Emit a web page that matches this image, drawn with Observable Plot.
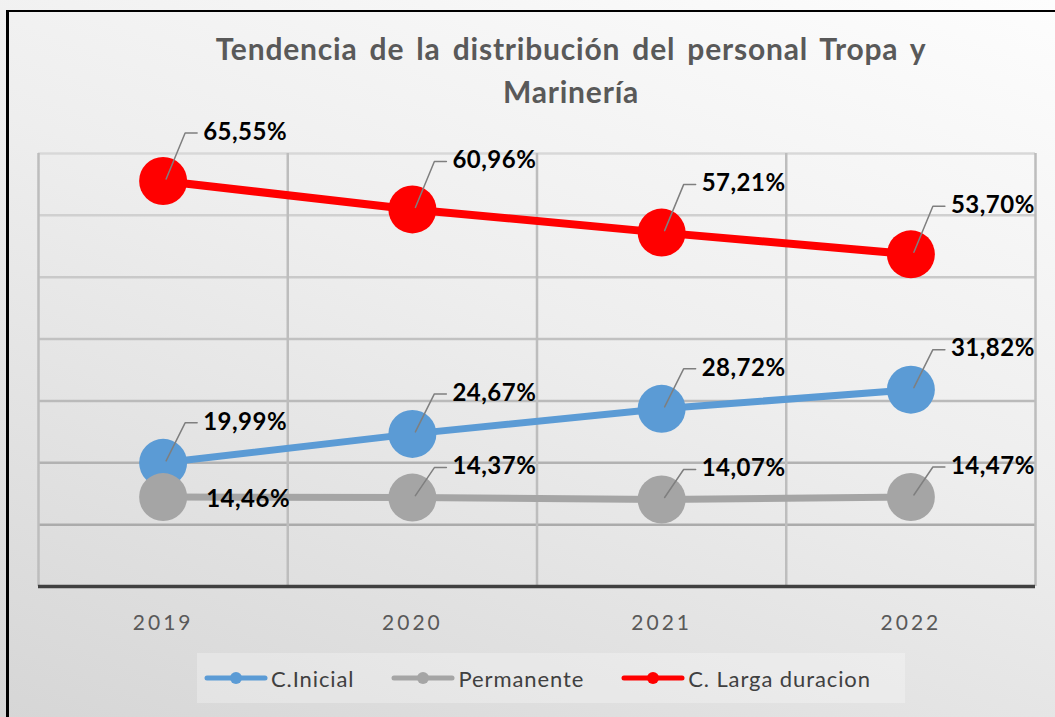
<!DOCTYPE html>
<html>
<head>
<meta charset="utf-8">
<script src="https://cdn.jsdelivr.net/npm/d3@7"></script>
<script src="https://cdn.jsdelivr.net/npm/@observablehq/plot@0.6"></script>
<style>
  html, body { margin: 0; padding: 0; }
  #chart {
    position: relative; width: 1055px; height: 717px; overflow: hidden;
    background: linear-gradient(200deg, #fdfdfd 0%, #eeeeee 45%, #d6d6d6 100%);
    font-family: Lato, "Open Sans", sans-serif;
  }
  #frame { position: absolute; left: 6px; top: 10px; right: -10px; bottom: -10px;
    border-left: 3px solid #000; border-top: 2px solid #000; }
  #title { position: absolute; left: 87px; width: 968px; top: 27px; text-align: center;
    font-weight: 700; font-size: 30px; line-height: 43px; color: #595959;
    letter-spacing: 0.8px; word-spacing: 4px; }
  #plot { position: absolute; left: 0; top: 130px; }
  #legend { position: absolute; left: 197px; top: 653px; width: 708px; height: 50px;
    background: rgba(255,255,255,0.28); display: flex; align-items: center;
    box-sizing: border-box; padding-left: 7px; gap: 37px; }
  .item { display: flex; align-items: center; gap: 3px; font-size: 22px; color: #404040; letter-spacing: 0.9px; }
</style>
</head>
<body>
<div id="chart">
  <div id="frame"></div>
  <div id="title">Tendencia de la distribución del personal Tropa y<br>Marinería</div>
  <div id="plot"></div>
  <div id="legend"></div>
</div>
<script>
const years = ["2019", "2020", "2021", "2022"];
const cInicial = [19.99, 24.67, 28.72, 31.82];
const permanente = [14.46, 14.37, 14.07, 14.47];
const cLarga = [65.55, 60.96, 57.21, 53.70];
const seriesNames = ["C.Inicial", "Permanente", "C. Larga duracion"];
const seriesValues = [cInicial, permanente, cLarga];
const seriesColors = ["#5B9BD5", "#A5A5A5", "#FF0000"];
const gridTicks = [10, 20, 30, 40, 50, 60, 70];

// label lift above each point (pixels), per series
const labelLift = [40, 30, 48];
const lineWidths = [7, 7, 8];

const rows = [];
seriesNames.forEach((s, si) => {
  seriesValues[si].forEach((v, i) => rows.push({series: s, si, year: years[i], i, value: v}));
});
const fmt = v => v.toFixed(2).replace(".", ",") + "%";
const beside = r => r.series === "Permanente" && r.year === "2019";

const gridColor = d3.interpolateRgb("#a3a3a3", "#d8d8d8");

const leaderShape = {
  draw(context, l) {
    context.moveTo(3, -2);
    context.lineTo(22, -l);
    context.lineTo(34, -l);
  }
};

const marks = [
  Plot.ruleY(gridTicks, {y: d => d, stroke: d => gridColor(d / 70), strokeWidth: 2.5}),
  Plot.ruleX(d3.range(years.length + 1), {x: d => d, y1: 0, y2: 70, stroke: "#bdbdbd", strokeWidth: 2.5}),
  Plot.ruleY([0], {stroke: "#404040", strokeWidth: 3.5}),
  Plot.text(years, {x: (d, i) => i + 0.5, y: 0, text: d => d, dy: 37, fontSize: 21, fill: "#595959", fontFamily: "Lato"})
];
seriesNames.forEach((s, si) => {
  const data = rows.filter(r => r.si === si);
  marks.push(Plot.line(data, {x: r => r.i + 0.5, y: "value", stroke: seriesColors[si], strokeWidth: lineWidths[si]}));
});
seriesNames.forEach((s, si) => {
  const data = rows.filter(r => r.si === si);
  marks.push(Plot.dot(data, {x: r => r.i + 0.5, y: "value", r: 24, fill: seriesColors[si], stroke: "none"}));
});
seriesNames.forEach((s, si) => {
  const data = rows.filter(r => r.si === si);
  const lifted = data.filter(r => !beside(r));
  const side = data.filter(r => beside(r));
  marks.push(Plot.vector(lifted, {x: r => r.i + 0.5, y: "value", length: labelLift[si], rotate: 0, anchor: "start",
    shape: leaderShape, stroke: "#7f7f7f", strokeWidth: 1.5}));
  marks.push(Plot.text(lifted, {x: r => r.i + 0.5, y: "value", text: r => fmt(r.value), dx: 40, dy: -labelLift[si] - 1,
    textAnchor: "start", fontSize: 24, fontWeight: "bold", fill: "#000", fontFamily: "Lato"}));
  marks.push(Plot.text(side, {x: r => r.i + 0.5, y: "value", text: r => fmt(r.value), dx: 43, dy: 2,
    textAnchor: "start", fontSize: 24, fontWeight: "bold", fill: "#000", fontFamily: "Lato"}));
});

const svg = Plot.plot({
  width: 1055,
  height: 515,
  marginLeft: 38,
  marginRight: 20,
  marginTop: 23,
  marginBottom: 59,
  x: {type: "linear", domain: [0, years.length], axis: null},
  y: {domain: [0, 70], axis: null},
  style: {background: "transparent", overflow: "visible"},
  marks
});
d3.select(svg).selectAll("text").each(function() {
  if (years.includes(this.textContent)) this.style.letterSpacing = "3px";
  else if (this.textContent.endsWith("%")) this.style.letterSpacing = "0.5px";
});
document.getElementById("plot").appendChild(svg);

// legend
const legend = d3.select("#legend");
seriesNames.forEach((s, si) => {
  const item = legend.append("div").attr("class", "item");
  const sw = item.append("svg").attr("width", 64).attr("height", 16);
  sw.append("line").attr("x1", 3).attr("x2", 61).attr("y1", 8).attr("y2", 8)
    .attr("stroke", seriesColors[si]).attr("stroke-width", 5).attr("stroke-linecap", "round");
  sw.append("circle").attr("cx", 32).attr("cy", 8).attr("r", 6).attr("fill", seriesColors[si]);
  item.append("span").text(s);
});
</script>
</body>
</html>
